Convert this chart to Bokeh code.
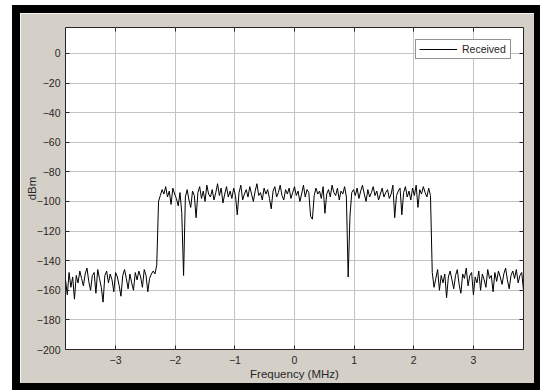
import numpy as np
from bokeh.plotting import figure
from bokeh.models import LinearAxis, FixedTicker, Range1d, Legend, LegendItem
from bokeh.embed import file_html
from bokeh.resources import INLINE

# ---- data ----
x_ticks = [-3, -2, -1, 0, 1, 2, 3]
y_ticks = [-200, -180, -160, -140, -120, -100, -80, -60, -40, -20, 0]
f_start, f_stop = -3.84, 3.84  # MHz span of the spectrum

noise_left = [
    -153, -163, -148, -158, -151, -166, -150, -155, -147, -152,
    -157, -149, -145, -154, -160, -150, -148, -162, -146, -152,
    -158, -168, -150, -147, -155, -149, -153, -161, -148, -151,
    -157, -164, -150, -146, -152, -159, -149, -155, -160, -148,
    -153, -147, -151, -158, -146, -150, -161, -152, -149, -147,
    -149, -143,
]
band = [
    -100, -96, -92, -95, -90, -97, -93, -102, -91, -95,
    -98, -103, -94, -108, -150, -97, -92, -99, -104, -93,
    -96, -111, -94, -90, -98, -93, -100, -89, -95, -97,
    -92, -99, -94, -88, -96, -91, -101, -95, -90, -97,
    -93, -98, -91, -96, -109, -94, -89, -99, -95, -92,
    -97, -90, -95, -100, -93, -88, -96, -94, -99, -91,
    -95, -92, -98, -105, -93, -90, -97, -94, -89, -96,
    -99, -92, -95, -91, -98, -94, -90, -96, -93, -100,
    -95, -89, -97, -92, -94, -110, -112, -96, -91, -95,
    -93, -98, -90, -108, -95, -92, -97, -89, -94, -96,
    -91, -99, -93, -95, -90, -97, -151, -110, -94, -92,
    -96, -91, -98, -93, -89, -95, -100, -92, -97, -94,
    -90, -96, -93, -99, -95, -91, -97, -94, -92, -98,
    -95, -89, -111, -96, -93, -91, -109, -94, -90, -97,
    -93, -99, -91, -96, -89, -104, -92, -95, -90, -94,
    -97, -91, -96,
]
noise_right = [
    -148, -158, -152, -146, -160, -150, -155, -149, -165, -151,
    -147, -153, -159, -150, -146, -156, -162, -149, -152, -145,
    -157, -150, -148, -163, -151, -155, -147, -160, -149, -153,
    -158, -146, -152, -150, -161, -148, -154, -147, -151, -156,
    -149, -145, -153, -159, -150, -147, -152, -146, -155, -150,
    -148, -160,
]
power = noise_left + band + noise_right
freq = np.linspace(f_start, f_stop, len(power))

FONT = "Liberation Sans"
TXT = "#262626"

p = figure(
    width=514, height=370,
    output_backend="svg", toolbar_location=None,
    x_range=Range1d(f_start, f_stop), y_range=Range1d(-200, 17.5),
    min_border_left=45, min_border_right=11, min_border_top=14, min_border_bottom=34,
    border_fill_color="#d4d0c8", background_fill_color="white",
    outline_line_color=TXT, outline_line_width=1,
)
# grey window panel sits at (20, 13) on the page, framed by a thick black rim
p.styles = {
    "position": "relative",
    "left": "20px",
    "top": "13px",
    "outline": "8px solid black",
}

r = p.line(freq, power, line_color="black", line_width=1)

# axes
for ax in (p.xaxis[0], p.yaxis[0]):
    ax.axis_line_color = None
    ax.major_tick_in = 4
    ax.major_tick_out = 0
    ax.minor_tick_in = 0
    ax.minor_tick_out = 0
    ax.major_tick_line_color = TXT
    ax.major_label_text_font = FONT
    ax.major_label_text_font_size = "10.5px"
    ax.major_label_text_color = TXT
    ax.axis_label_text_font = FONT
    ax.axis_label_text_font_size = "11.5px"
    ax.axis_label_text_font_style = "normal"
    ax.axis_label_text_color = TXT

p.xaxis.ticker = FixedTicker(ticks=x_ticks)
p.yaxis.ticker = FixedTicker(ticks=y_ticks)
p.xaxis.axis_label = "Frequency (MHz)"
p.yaxis.axis_label = "dBm"
p.xaxis.major_label_standoff = 6
p.xaxis.axis_label_standoff = 1
p.yaxis.major_label_standoff = 5
p.yaxis.axis_label_standoff = -4

for loc, tk in (("above", x_ticks), ("right", y_ticks)):
    a = LinearAxis(ticker=FixedTicker(ticks=tk))
    a.axis_line_color = None
    a.major_tick_in = 4
    a.major_tick_out = 0
    a.minor_tick_in = 0
    a.minor_tick_out = 0
    a.major_tick_line_color = TXT
    a.major_label_text_font_size = "1px"
    a.major_label_text_color = None
    a.major_label_standoff = 0
    p.add_layout(a, loc)

p.xgrid.grid_line_color = "#c4c4c4"
p.ygrid.grid_line_color = "#c4c4c4"

legend = Legend(
    items=[LegendItem(label="Received", renderers=[r])],
    location="top_right", margin=12, padding=3, spacing=0,
    glyph_width=38, glyph_height=12, label_standoff=5, label_width=45,
    label_text_font=FONT, label_text_font_size="10.5px", label_text_color=TXT,
    border_line_color=TXT, border_line_width=1, background_fill_color="white",
    background_fill_alpha=1.0,
)
p.add_layout(legend)

open("out.html", "w").write(file_html(p, INLINE))
